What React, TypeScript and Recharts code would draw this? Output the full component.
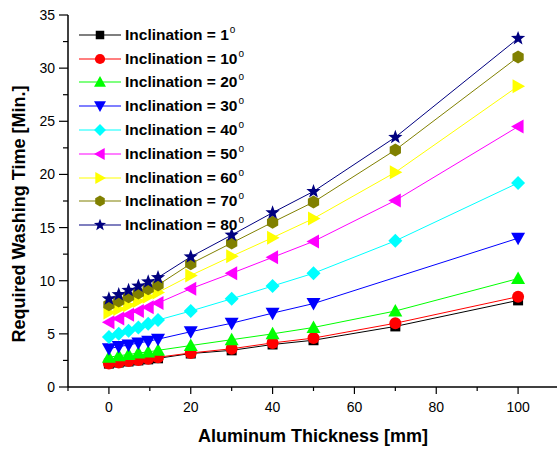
import React from 'react';
import { LineChart, Line, XAxis, YAxis, Legend } from 'recharts';

const thickness = [0, 2.4, 4.8, 7.2, 9.6, 12, 20, 30, 40, 50, 70, 100];

const incl1 = [2.2, 2.3, 2.4, 2.5, 2.6, 2.7, 3.15, 3.45, 4.0, 4.4, 5.7, 8.15];
const incl10 = [2.2, 2.3, 2.45, 2.55, 2.65, 2.8, 3.2, 3.6, 4.15, 4.6, 6.0, 8.5];
const incl20 = [2.8, 2.95, 3.05, 3.2, 3.3, 3.45, 3.9, 4.45, 5.0, 5.6, 7.15, 10.2];
const incl30 = [3.6, 3.8, 3.95, 4.15, 4.3, 4.5, 5.2, 6.0, 6.95, 7.85, null, 14.0];
const incl40 = [4.7, 5.0, 5.3, 5.6, 5.95, 6.3, 7.15, 8.3, 9.5, 10.7, 13.75, 19.2];
const incl50 = [6.1, 6.45, 6.8, 7.15, 7.5, 7.9, 9.25, 10.7, 12.2, 13.7, 17.55, 24.5];
const incl60 = [7.0, 7.35, 7.7, 8.1, 8.5, 8.9, 10.5, 12.3, 14.05, 15.85, 20.2, 28.3];
const incl70 = [7.75, 8.1, 8.5, 8.85, 9.25, 9.6, 11.6, 13.55, 15.5, 17.4, 22.3, 31.05];
const incl80 = [8.3, 8.7, 9.1, 9.5, 9.9, 10.3, 12.25, 14.3, 16.4, 18.4, 23.5, 32.8];

const xTicks = [-10, 0, 10, 20, 30, 40, 50, 60, 70, 80, 90, 100, 110];
const yTicks = [0, 2.5, 5, 7.5, 10, 12.5, 15, 17.5, 20, 22.5, 25, 27.5, 30, 32.5, 35];

const FONT = '"Liberation Sans", Arial, sans-serif';

const series = [
  { key: 's1', label: '1', color: '#000000', shape: 'square', values: incl1 },
  { key: 's10', label: '10', color: '#ff0000', shape: 'circle', values: incl10 },
  { key: 's20', label: '20', color: '#00ff00', shape: 'up', values: incl20 },
  { key: 's30', label: '30', color: '#0000ff', shape: 'down', values: incl30 },
  { key: 's40', label: '40', color: '#00ffff', shape: 'diamond', values: incl40 },
  { key: 's50', label: '50', color: '#ff00ff', shape: 'left', values: incl50 },
  { key: 's60', label: '60', color: '#ffff00', shape: 'right', values: incl60 },
  { key: 's70', label: '70', color: '#808000', shape: 'hex', values: incl70 },
  { key: 's80', label: '80', color: '#000080', shape: 'star', values: incl80 },
];

const rows = thickness.map((x, i) => {
  const row: Record<string, number | null> = { x };
  series.forEach((s) => {
    row[s.key] = s.values[i];
  });
  return row;
});

function Marker({ shape, cx, cy, color, k = 1 }: { shape: string; cx: number; cy: number; color: string; k?: number }) {
  const pts = (arr: number[][]) => arr.map(([a, b]) => `${cx + a * k},${cy + b * k}`).join(' ');
  switch (shape) {
    case 'square':
      return <rect x={cx - 5 * k} y={cy - 5 * k} width={10 * k} height={10 * k} fill={color} />;
    case 'circle':
      return <circle cx={cx} cy={cy} r={6 * k} fill={color} />;
    case 'up':
      return <polygon points={pts([[0, -7], [7, 5.5], [-7, 5.5]])} fill={color} />;
    case 'down':
      return <polygon points={pts([[0, 7], [7, -5.5], [-7, -5.5]])} fill={color} />;
    case 'left':
      return <polygon points={pts([[-7, 0], [5.5, -7], [5.5, 7]])} fill={color} />;
    case 'right':
      return <polygon points={pts([[7, 0], [-5.5, -7], [-5.5, 7]])} fill={color} />;
    case 'diamond':
      return <polygon points={pts([[0, -7], [7, 0], [0, 7], [-7, 0]])} fill={color} />;
    case 'hex': {
      const p: number[][] = [];
      for (let j = 0; j < 6; j++) {
        const a = (Math.PI / 180) * (-90 + 60 * j);
        p.push([6.5 * Math.cos(a), 6.5 * Math.sin(a)]);
      }
      return <polygon points={pts(p)} fill={color} />;
    }
    case 'star': {
      const p: number[][] = [];
      for (let j = 0; j < 10; j++) {
        const r = j % 2 === 0 ? 7.5 : 3.1;
        const a = (Math.PI / 180) * (-90 + 36 * j);
        p.push([r * Math.cos(a), r * Math.sin(a)]);
      }
      return <polygon points={pts(p)} fill={color} />;
    }
    default:
      return null;
  }
}

const XTick = (props: any) => {
  const { x, y, payload } = props;
  const v = payload.value;
  const major = v % 20 === 0;
  return (
    <g>
      <line x1={x} x2={x} y1={y} y2={y + (major ? 7 : 4)} stroke="#000" strokeWidth={1.2} />
      {major && (
        <text x={x} y={y + 25} textAnchor="middle" fontSize={14} fontFamily={FONT} fill="#000">
          {v}
        </text>
      )}
    </g>
  );
};

const TopTick = (props: any) => {
  const { x, y } = props;
  return <line x1={x} x2={x} y1={y} y2={y - 2} stroke="#000" strokeWidth={1.2} />;
};

const YTick = (props: any) => {
  const { x, y, payload } = props;
  const v = payload.value;
  const major = v % 5 === 0;
  return (
    <g>
      <line x1={x} x2={x - (major ? 9 : 5)} y1={y} y2={y} stroke="#000" strokeWidth={1.2} />
      {major && (
        <text x={x - 13} y={y + 5} textAnchor="end" fontSize={14} fontFamily={FONT} fill="#000">
          {v}
        </text>
      )}
    </g>
  );
};

const XTitle = () => (
  <text x={313} y={442} textAnchor="middle" fontSize={18} fontWeight="bold" fontFamily={FONT} fill="#000">
    Aluminum Thickness [mm]
  </text>
);

const YTitle = () => (
  <text
    x={25}
    y={214}
    transform="rotate(-90, 25, 214)"
    textAnchor="middle"
    fontSize={18}
    fontWeight="bold"
    fontFamily={FONT}
    fill="#000"
  >
    Required Washing Time [Min.]
  </text>
);

const renderLegend = () => (
  <div style={{ fontFamily: FONT, fontWeight: 'bold', fontSize: 15.5, color: '#000' }}>
    {series.map((s) => (
      <div key={s.key} style={{ display: 'flex', alignItems: 'center', height: 23.8, whiteSpace: 'nowrap' }}>
        <svg width={46} height={20} style={{ display: 'block' }}>
          <line x1={0} x2={42} y1={10} y2={10} stroke={s.color} strokeWidth={1.2} />
          <Marker shape={s.shape} cx={21} cy={10} color={s.color} k={0.85} />
        </svg>
        <span>
          Inclination = {s.label}
          <span style={{ fontSize: 10, fontWeight: 'normal', position: 'relative', top: -7, marginLeft: 1 }}>o</span>
        </span>
      </div>
    ))}
  </div>
);

export default function App() {
  return (
    <div style={{ position: 'absolute', left: 0, top: 0, width: 557, height: 449, overflow: 'hidden', background: '#fff' }}>
      <LineChart width={560} height={449} data={rows} margin={{ top: 15, right: 1, bottom: 0, left: 0 }}>
        <XAxis
          xAxisId="b"
          dataKey="x"
          type="number"
          domain={[-10, 110]}
          ticks={xTicks}
          interval={0}
          allowDataOverflow
          tickSize={0}
          tickMargin={0}
          tickLine={false}
          tick={XTick}
          axisLine={{ stroke: '#000', strokeWidth: 1.5 }}
          height={62}
          label={<XTitle />}
        />
        <XAxis
          xAxisId="t"
          orientation="top"
          dataKey="x"
          type="number"
          domain={[-10, 110]}
          ticks={xTicks}
          interval={0}
          tickSize={0}
          tickMargin={0}
          tickLine={false}
          tick={TopTick}
          axisLine={{ stroke: '#000', strokeWidth: 1.5 }}
          height={0}
        />
        <YAxis
          yAxisId="l"
          type="number"
          domain={[0, 35]}
          ticks={yTicks}
          interval={0}
          tickSize={0}
          tickMargin={0}
          tickLine={false}
          tick={YTick}
          axisLine={{ stroke: '#000', strokeWidth: 1.5 }}
          width={68}
          label={<YTitle />}
        />
        <Legend
          layout="vertical"
          align="center"
          verticalAlign="middle"
          content={renderLegend}
          wrapperStyle={{ left: 79, top: 23, width: 260 }}
        />
        {series.map((s) => (
          <Line
            key={s.key}
            xAxisId="b"
            yAxisId="l"
            dataKey={s.key}
            stroke={s.color}
            strokeWidth={1}
            connectNulls
            isAnimationActive={false}
            activeDot={false}
            legendType="none"
            dot={(p: any) => {
              if (p.cx == null || p.cy == null || p.value == null) return <g key={`d-${s.key}-${p.index}`} />;
              return (
                <g key={`d-${s.key}-${p.index}`}>
                  <Marker shape={s.shape} cx={p.cx} cy={p.cy} color={s.color} />
                </g>
              );
            }}
          />
        ))}
      </LineChart>
    </div>
  );
}
